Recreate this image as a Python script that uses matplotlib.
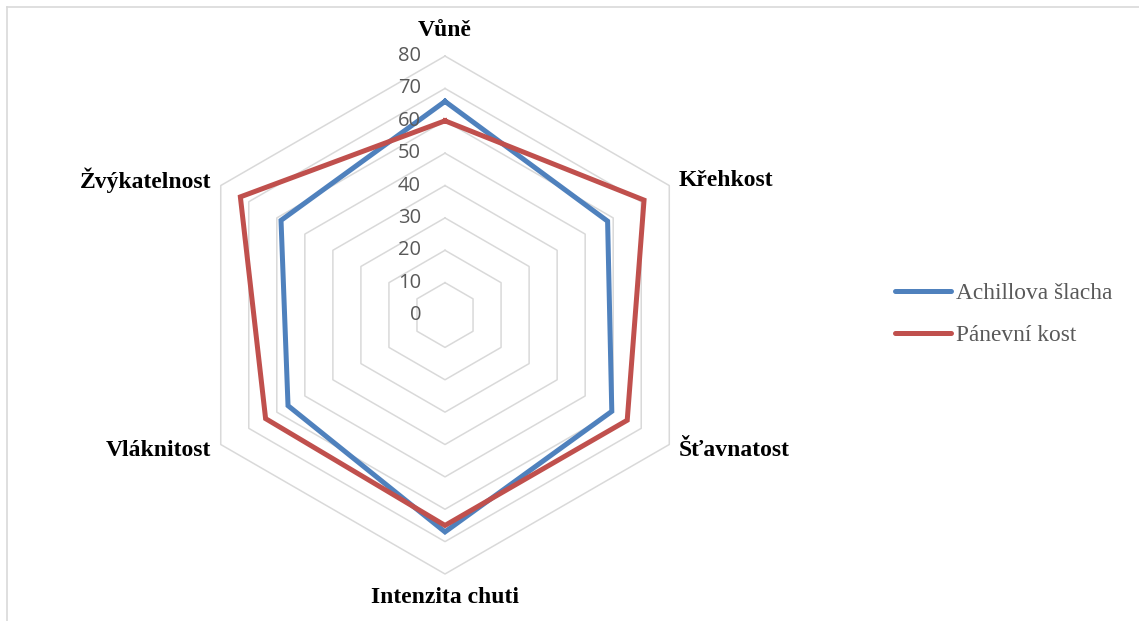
import numpy as np
import matplotlib
matplotlib.use("Agg")
import matplotlib.pyplot as plt
from matplotlib.lines import Line2D

# sensory profile, scored 0-80
categories = ["Vůně", "Křehkost", "Šťavnatost", "Intenzita chuti", "Vláknitost", "Žvýkatelnost"]
achillova = [66, 58, 59.5, 67, 56, 58.5]
panevni = [60, 71, 65, 65, 64, 73]
series_names = ["Achillova šlacha", "Pánevní kost"]
ring_values = [10, 20, 30, 40, 50, 60, 70, 80]
tick_values = [0, 10, 20, 30, 40, 50, 60, 70, 80]

BLUE = "#4F81BD"
RED = "#C0504D"
GRID = "#D9D9D9"
TEXT_GRAY = "#595959"

fig = plt.figure(figsize=(11.39, 6.21), dpi=100)
ax = fig.add_axes([0.1633, 0.0757, 0.4548, 0.834], projection="polar")
ax.set_theta_offset(np.pi / 2)
ax.set_theta_direction(-1)
ax.set_ylim(0, 80)
ax.grid(False)
ax.set_xticks([])
ax.set_yticks([])
ax.spines["polar"].set_visible(False)
ax.patch.set_visible(False)

n = len(categories)
angles = np.linspace(0, 2 * np.pi, n, endpoint=False)
closed = np.append(angles, angles[0])

# hexagonal grid rings
for r in ring_values:
    ax.plot(closed, [r] * (n + 1), color=GRID, lw=1.1, zorder=1, clip_on=False)

def closed_vals(v):
    return list(v) + [v[0]]

ax.plot(closed, closed_vals(achillova), color=BLUE, lw=3.6, zorder=3,
        solid_joinstyle="miter", label=series_names[0], clip_on=False)
ax.plot(closed, closed_vals(panevni), color=RED, lw=3.6, zorder=4,
        solid_joinstyle="miter", label=series_names[1], clip_on=False)

# value labels along the vertical axis
for v in tick_values:
    ax.annotate(str(v), xy=(0, v), xytext=(-24, 0), textcoords="offset pixels",
                ha="right", va="center", fontsize=14.5, color=TEXT_GRAY,
                family="Open Sans", zorder=10, annotation_clip=False)

# category labels
label_pos = [
    (88, "center", "center"),
    (83.4, "left", "center"),
    (83.4, "left", "center"),
    (87.4, "center", "center"),
    (83.4, "right", "center"),
    (83.4, "right", "center"),
]
for ang, name, (r, ha, va) in zip(angles, categories, label_pos):
    ax.text(ang, r, name, ha=ha, va=va, fontsize=17, fontweight="bold",
            family="Liberation Serif", color="black", clip_on=False)

handles = [Line2D([0], [0], color=BLUE, lw=3.6, solid_capstyle="round"),
           Line2D([0], [0], color=RED, lw=3.6, solid_capstyle="round")]
leg = fig.legend(handles, series_names, loc="center left",
                 bbox_to_anchor=(0.7858, 0.4936), frameon=False,
                 borderpad=0, borderaxespad=0, handlelength=2.4,
                 handletextpad=0.2, labelspacing=0.88,
                 prop={"family": "Liberation Serif", "size": 16.8})
for t in leg.get_texts():
    t.set_color(TEXT_GRAY)

# chart area frame
W, H = 1139, 621
fig.add_artist(Line2D([7 / W, 7 / W], [0, 1 - 7 / H], color=GRID, lw=1.2,
                      transform=fig.transFigure))
fig.add_artist(Line2D([7 / W, 1], [1 - 7 / H, 1 - 7 / H], color=GRID, lw=1.2,
                      transform=fig.transFigure))

fig.savefig("out.png", dpi=100)
